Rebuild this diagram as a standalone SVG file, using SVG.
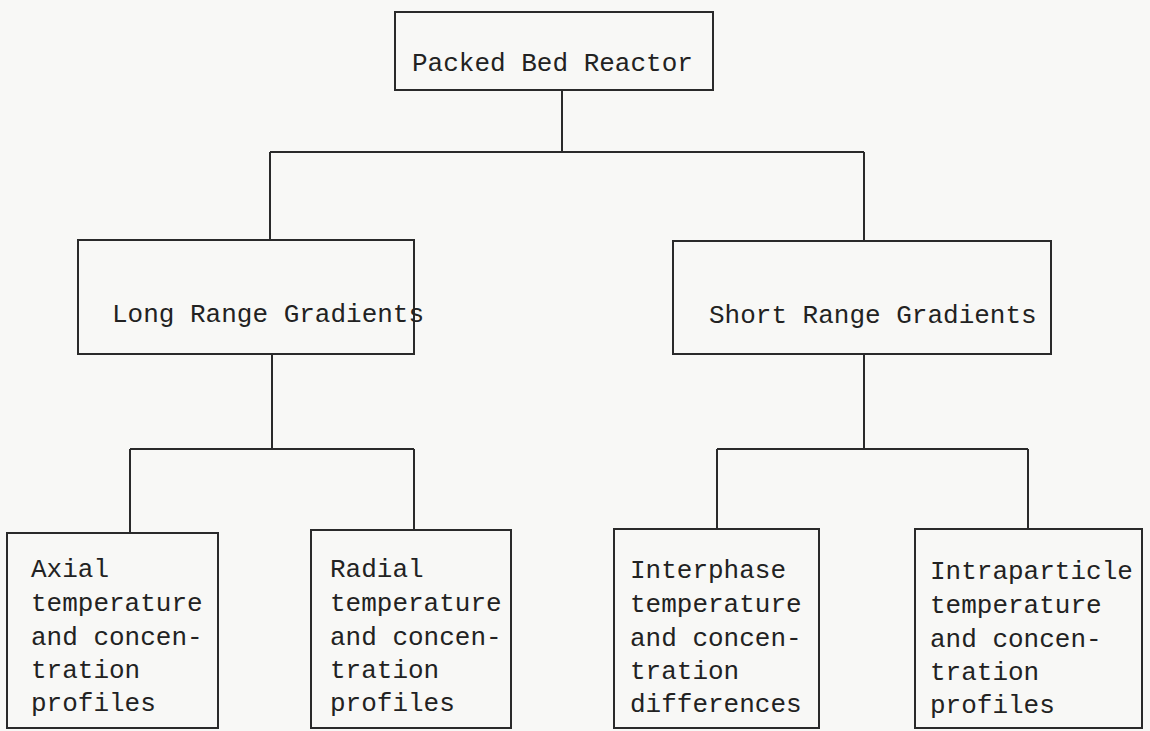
<svg xmlns="http://www.w3.org/2000/svg" width="1150" height="731" viewBox="0 0 1150 731">
<style>
.box{fill:none;stroke:#2a2a2a;stroke-width:2}
.ln{fill:none;stroke:#2a2a2a;stroke-width:2}
text{font-family:"Liberation Mono","Courier New",monospace;font-size:26px;fill:#222}
</style>
<rect x="0" y="0" width="1150" height="731" fill="#f8f8f6"/>
<g id="connectors">
<path class="ln" d="M562 90 V152 M270 152 H864 M270 152 V240 M864 152 V241"/>
<path class="ln" d="M272 354 V449 M130 449 H414 M130 449 V533 M414 449 V530"/>
<path class="ln" d="M864 354 V449 M717 449 H1028 M717 449 V529 M1028 449 V529"/>
</g>
<g id="n-packed"><rect class="box" x="395" y="12" width="318" height="78"/><text x="412" y="71">Packed Bed Reactor</text></g>
<g id="n-long"><rect class="box" x="78" y="240" width="336" height="114"/><text x="112" y="322">Long Range Gradients</text></g>
<g id="n-short"><rect class="box" x="673" y="241" width="378" height="113"/><text x="709" y="323">Short Range Gradients</text></g>
<g id="n-axial"><rect class="box" x="7" y="533" width="211" height="195"/>
<text><tspan x="31" y="577">Axial</tspan><tspan x="31" y="611">temperature</tspan><tspan x="31" y="645">and concen-</tspan><tspan x="31" y="678">tration</tspan><tspan x="31" y="711">profiles</tspan></text></g>
<g id="n-radial"><rect class="box" x="311" y="530" width="200" height="198"/>
<text><tspan x="330" y="577">Radial</tspan><tspan x="330" y="611">temperature</tspan><tspan x="330" y="645">and concen-</tspan><tspan x="330" y="678">tration</tspan><tspan x="330" y="711">profiles</tspan></text></g>
<g id="n-interphase"><rect class="box" x="614" y="529" width="205" height="199"/>
<text><tspan x="630" y="578">Interphase</tspan><tspan x="630" y="612">temperature</tspan><tspan x="630" y="646">and concen-</tspan><tspan x="630" y="679">tration</tspan><tspan x="630" y="712">differences</tspan></text></g>
<g id="n-intra"><rect class="box" x="915" y="529" width="227" height="199"/>
<text><tspan x="930" y="579">Intraparticle</tspan><tspan x="930" y="613">temperature</tspan><tspan x="930" y="647">and concen-</tspan><tspan x="930" y="680">tration</tspan><tspan x="930" y="713">profiles</tspan></text></g>
</svg>
